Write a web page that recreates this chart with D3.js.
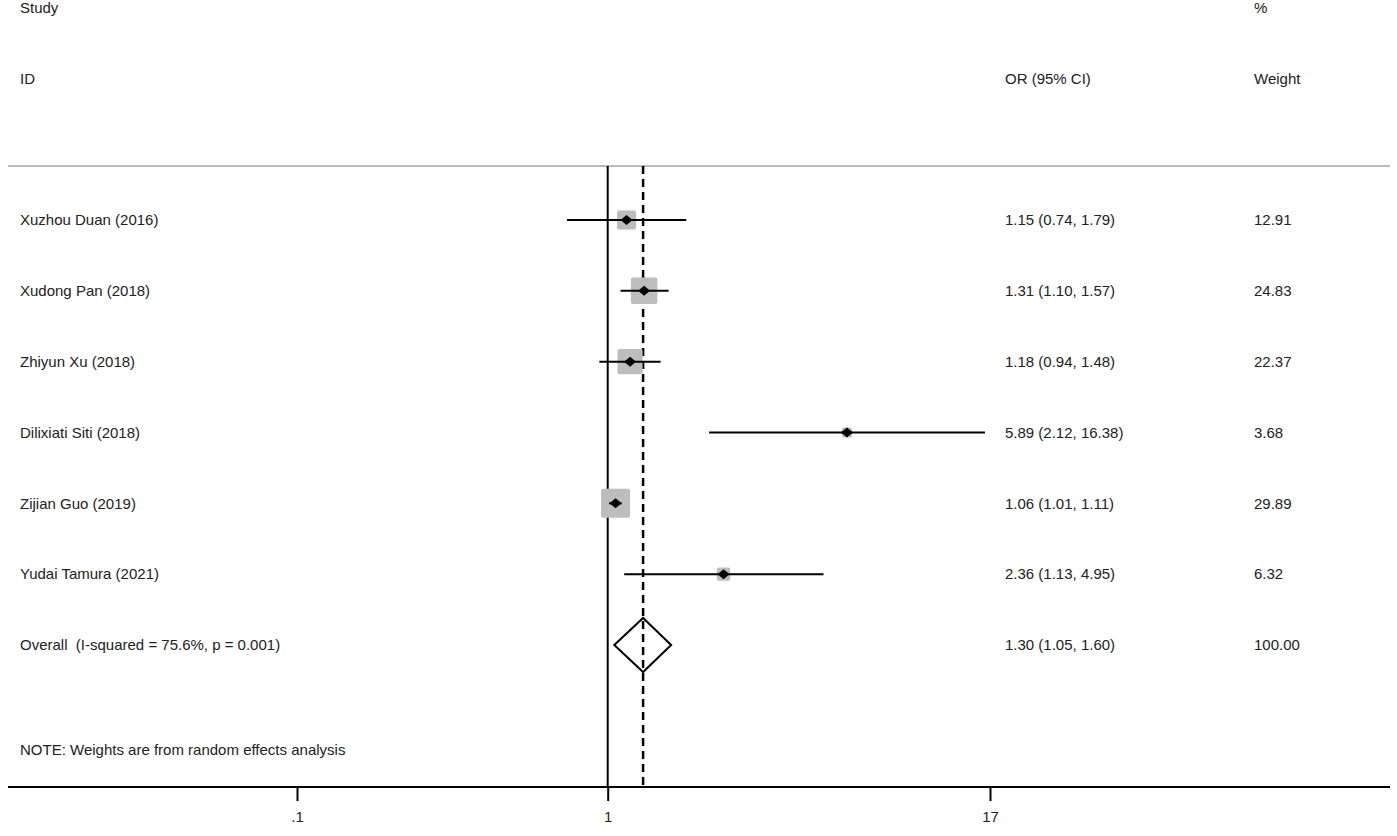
<html>
  <head>
    <meta charset="utf-8">
    <title>Forest plot</title>
    <style>
      body { margin: 0; background: #fff; }
      text { font-family: Arial, "Liberation Sans", sans-serif; font-size: 15px; fill: #222; white-space: pre; }
    </style>
  </head>
  <body>
    <div id="vis"></div>
    <script src="https://d3js.org/d3.v7.min.js"></script>
    <script>
      // data
      const studies = ['Xuzhou Duan (2016)', 'Xudong Pan (2018)', 'Zhiyun Xu (2018)',
        'Dilixiati Siti (2018)', 'Zijian Guo (2019)', 'Yudai Tamura (2021)']
      const est = [1.15, 1.31, 1.18, 5.89, 1.06, 2.36]
      const lo = [0.74, 1.10, 0.94, 2.12, 1.01, 1.13]
      const hi = [1.79, 1.57, 1.48, 16.38, 1.11, 4.95]
      const weights = [12.91, 24.83, 22.37, 3.68, 29.89, 6.32]
      const overall = [1.30, 1.05, 1.60]
      const overallLabel = 'Overall  (I-squared = 75.6%, p = 0.001)'
      const overallWeight = '100.00'
      const tickVals = [0.1, 1, 17]
      const tickLabels = ['.1', '1', '17']

      const W = 1397, H = 836
      const svg = d3.select('#vis').append('svg')
              .attr('width', W).attr('height', H)

      const x = d3.scaleLog().domain([0.1, 17]).range([297, 990])
      const y = d3.scaleLinear().domain([0, 6]).range([220, 645])
      const box = d3.scaleSqrt().domain([0, 29.89]).range([0, 29])
      const AXIS_Y = 787, TOP_Y = 166
      const fmt = d3.format('.2f')

      // headers
      const head = svg.append('g')
      head.append('text').attr('x', 20).attr('y', 8).attr('dy', '0.35em').text('Study')
      head.append('text').attr('x', 20).attr('y', 79).attr('dy', '0.35em').text('ID')
      head.append('text').attr('x', 1005).attr('y', 79).attr('dy', '0.35em').text('OR (95% CI)')
      head.append('text').attr('x', 1254).attr('y', 8).attr('dy', '0.35em').text('%')
      head.append('text').attr('x', 1254).attr('y', 79).attr('dy', '0.35em').text('Weight')

      // top rule
      svg.append('line').attr('x1', 8).attr('x2', 1390)
              .attr('y1', TOP_Y).attr('y2', TOP_Y)
              .attr('stroke', '#bbb').attr('stroke-width', 2)

      // null line and overall line
      svg.append('line').attr('x1', x(1)).attr('x2', x(1))
              .attr('y1', TOP_Y).attr('y2', AXIS_Y)
              .attr('stroke', '#000').attr('stroke-width', 2)
      svg.append('line').attr('x1', x(overall[0])).attr('x2', x(overall[0]))
              .attr('y1', TOP_Y).attr('y2', AXIS_Y)
              .attr('stroke', '#000').attr('stroke-width', 2.5)
              .attr('stroke-dasharray', '8,5')

      // study rows
      const rows = svg.append('g').selectAll('g')
              .data(studies.map((s, i) => ({ s, i, e: est[i], l: lo[i], h: hi[i], w: weights[i] })))
              .join('g')

      rows.append('rect')
              .attr('x', d => x(d.e) - box(d.w) / 2)
              .attr('y', d => y(d.i) - box(d.w) / 2)
              .attr('width', d => box(d.w))
              .attr('height', d => box(d.w))
              .attr('rx', 2)
              .attr('fill', '#bdbdbd')
      rows.append('line')
              .attr('x1', d => x(d.l)).attr('x2', d => x(d.h))
              .attr('y1', d => y(d.i)).attr('y2', d => y(d.i))
              .attr('stroke', '#000').attr('stroke-width', 2)
      rows.append('path')
              .attr('d', d => {
                const cx = x(d.e), cy = y(d.i)
                return `M${cx - 6},${cy}L${cx},${cy - 5}L${cx + 6},${cy}L${cx},${cy + 5}Z`
              })
              .attr('fill', '#000')
      rows.append('text').attr('x', 20).attr('y', d => y(d.i)).attr('dy', '0.35em').text(d => d.s)
      rows.append('text').attr('x', 1005).attr('y', d => y(d.i)).attr('dy', '0.35em')
              .text(d => `${fmt(d.e)} (${fmt(d.l)}, ${fmt(d.h)})`)
      rows.append('text').attr('x', 1254).attr('y', d => y(d.i)).attr('dy', '0.35em')
              .text(d => fmt(d.w))

      // overall diamond (dashed line shows through it)
      const oy = y(6)
      svg.append('path')
              .attr('d', `M${x(overall[1])},${oy}L${x(overall[0])},${oy - 27}L${x(overall[2])},${oy}L${x(overall[0])},${oy + 27}Z`)
              .attr('fill', 'none').attr('stroke', '#000').attr('stroke-width', 2)
      svg.append('text').attr('x', 20).attr('y', oy).attr('dy', '0.35em').text(overallLabel)
      svg.append('text').attr('x', 1005).attr('y', oy).attr('dy', '0.35em')
              .text(`${fmt(overall[0])} (${fmt(overall[1])}, ${fmt(overall[2])})`)
      svg.append('text').attr('x', 1254).attr('y', oy).attr('dy', '0.35em').text(overallWeight)

      svg.append('text').attr('x', 20).attr('y', 750).attr('dy', '0.35em')
              .text('NOTE: Weights are from random effects analysis')

      // x axis
      svg.append('line').attr('x1', 8).attr('x2', 1390)
              .attr('y1', AXIS_Y).attr('y2', AXIS_Y)
              .attr('stroke', '#000').attr('stroke-width', 2)
      svg.append('g')
              .attr('transform', `translate(0, ${AXIS_Y})`)
              .call(d3.axisBottom(x).tickValues(tickVals)
                      .tickFormat((d, i) => tickLabels[i])
                      .tickSize(14).tickPadding(10))
              .call(g => g.select('.domain').remove())
              .call(g => g.selectAll('.tick line').attr('stroke', '#000').attr('stroke-width', 2))
              .call(g => g.selectAll('.tick text').attr('font-size', null).attr('font-family', null))
    </script>
  </body>
</html>
